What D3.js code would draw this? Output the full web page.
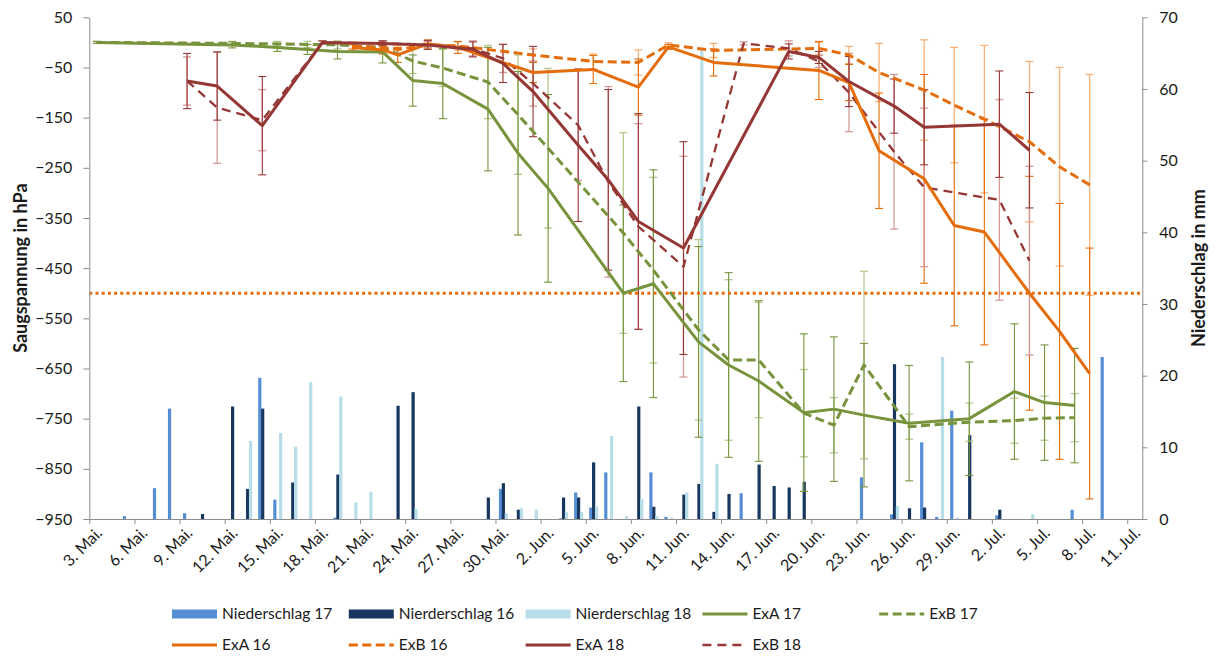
<!DOCTYPE html>
<html><head><meta charset="utf-8">
<script src="https://cdn.jsdelivr.net/npm/d3@7"></script>
<style>
body{margin:0;background:#fff}
text{font-family:Lato,"Open Sans",sans-serif;fill:#1a1a1a}
</style></head>
<body><svg id="c" width="1215" height="657"></svg>
<script>
// ---------- DATA ----------
const leftTicks = [50,-50,-150,-250,-350,-450,-550,-650,-750,-850,-950];
const rightTicks = [0,10,20,30,40,50,60,70];
const monthNames = {4:"Mai.",5:"Jun.",6:"Jul."};
const threshold = -500;

// precipitation bars (mm), dates as MM-DD
const n17Dates = ["05-05","05-07","05-08","05-09","05-14","05-15","05-19","05-30","06-03","06-04","06-05","06-06","06-09","06-10","06-15","06-23","06-25","06-27","06-28","06-29","07-02","07-07","07-09"];
const n17Values = [0.4,4.3,15.4,0.8,19.7,2.7,0.2,4.2,0.1,3.7,1.6,6.5,6.5,0.3,3.6,5.8,0.65,10.7,0.3,15.1,0.5,1.3,22.6];
const n16Dates = ["05-10","05-12","05-13","05-14","05-16","05-19","05-23","05-24","05-29","05-30","05-31","06-03","06-04","06-05","06-08","06-09","06-11","06-12","06-13","06-14","06-16","06-17","06-18","06-19","06-25","06-26","06-27","06-30","07-02"];
const n16Values = [0.7,15.7,4.2,15.4,5.1,6.2,15.8,17.7,3.0,5.0,1.3,3.0,3.0,7.9,15.7,1.7,3.4,4.9,1.0,3.5,7.6,4.6,4.4,5.2,21.6,1.5,1.6,11.7,1.3];
const n18Dates = ["05-13","05-15","05-16","05-17","05-19","05-20","05-21","05-24","05-30","05-31","06-01","06-03","06-04","06-05","06-06","06-07","06-08","06-09","06-10","06-11","06-12","06-13","06-25","06-28","06-29","07-04"];
const n18Values = [10.9,12.0,10.1,19.1,17.1,2.3,3.8,1.4,0.8,1.5,1.3,1.0,1.0,1.7,11.6,0.4,2.8,0.4,0.2,3.7,65.4,7.7,1.8,22.6,0.2,0.65];

// suction (hPa)
const g17Dates = ["05-03","05-12","05-15","05-17","05-19","05-22","05-24","05-26","05-29","05-31","06-02","06-07","06-09","06-12","06-14","06-16","06-19","06-21","06-23","06-26","06-30","07-03","07-05","07-07"];
const exA17 = [0,-5,-10,-14,-18,-19,-76,-82,-133,-221,-291,-500,-481,-597,-643,-675,-738,-731,-743,-759,-750,-696,-718,-724];
const exA17Err = [2,6,8,10,15,22,51,70,123,163,187,176,227,190,184,160,157,144,143,115,113,135,115,114];
const exB17 = [0,-2,-3,-4,-5,-10,-37,-51,-79,-144,-211,-380,-454,-573,-633,-633,-739,-763,-643,-766,-757,-754,-749,-748];
const exB17Err = [2,4,5,6,8,12,25,37,73,119,159,200,185,180,160,115,87,55,187,25,38,45,44,48];

const o16Dates = ["05-20","05-22","05-23","05-25","05-27","06-01","06-05","06-08","06-10","06-13","06-20","06-22","06-24","06-27","06-29","07-01","07-04","07-06","07-08"];
const exA16 = [-10,-15,-25,-3,-10,-60,-54,-89,-9,-40,-56,-80,-216,-272,-365,-378,-500,-576,-660];
const exA16Err = [5,8,15,8,12,20,28,56,5,27,58,36,115,208,200,225,233,255,250];
const exB16 = [-8,-10,-14,-5,-7,-25,-38,-40,-5,-16,-12,-25,-60,-95,-125,-153,-198,-248,-284];
const exB16Err = [4,6,8,6,8,12,15,25,4,14,12,17,58,100,115,147,160,198,220];

const r18ADates = ["05-09","05-11","05-14","05-18","05-22","05-25","05-28","05-30","06-01","06-04","06-06","06-08","06-11","06-18","06-20","06-22","06-25","06-27","07-02","07-04"];
const exA18 = [-77,-87,-166,0,-2,-5,-14,-42,-98,-205,-274,-357,-410,-18,-30,-78,-127,-169,-163,-215];
const exA18Err = [55,68,98,3,5,9,15,38,90,152,180,215,212,15,12,50,54,75,106,115];
const r18BDates = ["05-09","05-11","05-14","05-18","05-22","05-25","05-28","05-30","06-01","06-04","06-06","06-08","06-11","06-15","06-18","06-20","06-22","06-25","06-27","07-02","07-04"];
const exB18 = [-77,-130,-155,0,-2,-4,-12,-32,-82,-165,-278,-367,-447,-2,-12,-38,-100,-218,-289,-314,-435];
const exB18Err = [48,111,61,3,4,6,15,28,45,110,190,205,220,3,15,12,78,154,158,200,188];

// ---------- SETUP ----------
const svg = d3.select('#c');
const X0=89.3, X1=1142.3, Y0=519, Y1=17.3;
const parse = s => { const [m,d]=s.split('-').map(Number); return new Date(Date.UTC(2017,m-1,d)); };
const start = parse("05-03"), end = parse("07-12");
const x = d3.scaleUtc().domain([start,end]).range([X0,X1]);
const yL = d3.scaleLinear().domain([-950,50]).range([Y0,Y1]);
const yR = d3.scaleLinear().domain([0,70]).range([Y0,Y1]);
const mid = s => x(d3.utcHour.offset(parse(s),12));
const slot = x(d3.utcDay.offset(start,1)) - x(start);

const C = {n17:"#558ED5", n16:"#17375E", n18:"#B7DEE8", g:"#77933C", gL:"#B5C98E", o:"#E46C0A", oL:"#F7B27A", r:"#953735", rL:"#D49A98"};
const AX = "#8c8c8c";

// ---------- BARS ----------
const barW = 3.2, step = 2.9;
[[n17Dates,n17Values,C.n17,-1],[n16Dates,n16Values,C.n16,0],[n18Dates,n18Values,C.n18,1]].forEach(([ds,vs,col,k])=>{
  svg.append('g').selectAll('rect').data(ds.map((d,i)=>({d,v:vs[i]}))).join('rect')
    .attr('x',p=>mid(p.d)+0.4+k*step-barW/2).attr('width',barW)
    .attr('y',p=>yR(p.v)).attr('height',p=>Y0-yR(p.v)).attr('fill',col);
});

// ---------- ERROR BARS ----------
function errBars(ds,vs,es,col,w){
  const g = svg.append('g').attr('stroke',col).attr('stroke-width',w).attr('fill','none');
  const data = ds.map((d,i)=>({d,v:vs[i],e:es[i]}));
  g.selectAll('line.v').data(data).join('line').attr('class','v')
    .attr('x1',p=>mid(p.d)).attr('x2',p=>mid(p.d)).attr('y1',p=>yL(p.v+p.e)).attr('y2',p=>yL(p.v-p.e));
  ['t','b'].forEach(s=>{
    g.selectAll('line.'+s).data(data).join('line').attr('class',s)
      .attr('x1',p=>mid(p.d)-4).attr('x2',p=>mid(p.d)+4)
      .attr('y1',p=>yL(s==='t'?p.v+p.e:p.v-p.e)).attr('y2',p=>yL(s==='t'?p.v+p.e:p.v-p.e));
  });
}
errBars(g17Dates,exB17,exB17Err,C.gL,1.3);
errBars(g17Dates,exA17,exA17Err,C.g,1.1);
errBars(o16Dates,exB16,exB16Err,C.oL,1.3);
errBars(o16Dates,exA16,exA16Err,C.o,1.1);
errBars(r18BDates,exB18,exB18Err,C.rL,1.3);
errBars(r18ADates,exA18,exA18Err,C.r,1.1);

// ---------- THRESHOLD ----------
svg.append('line').attr('x1',X0).attr('x2',X1).attr('y1',yL(threshold)).attr('y2',yL(threshold))
  .attr('stroke',C.o).attr('stroke-width',3).attr('stroke-dasharray','3,3.2');

// ---------- LINES ----------
function drawLine(ds,vs,col,w,dash){
  const line = d3.line().x(p=>mid(p.d)).y(p=>yL(p.v));
  svg.append('path').datum(ds.map((d,i)=>({d,v:vs[i]}))).attr('d',line)
    .attr('fill','none').attr('stroke',col).attr('stroke-width',w)
    .attr('stroke-linejoin','round').attr('stroke-dasharray',dash||null);
}
drawLine(g17Dates,exB17,C.g,3,'9,4.5');
drawLine(o16Dates,exB16,C.o,3,'9,4.5');
drawLine(r18BDates,exB18,C.r,2.3,'9,6');
drawLine(g17Dates,exA17,C.g,3);
drawLine(o16Dates,exA16,C.o,3);
drawLine(r18ADates,exA18,C.r,3);

// ---------- AXES ----------
function styleAxis(g){
  g.selectAll('path,line').attr('stroke',AX);
  g.selectAll('text').style('font-size','16px').attr('fill','#1a1a1a');
}
svg.append('g').attr('transform',`translate(${X0},0)`)
  .call(d3.axisLeft(yL).tickValues(leftTicks).tickSize(6).tickSizeOuter(0).tickPadding(11)).call(styleAxis);
svg.append('g').attr('transform',`translate(${X1},0)`)
  .call(d3.axisRight(yR).tickValues(rightTicks).tickSize(5).tickSizeOuter(0).tickPadding(12)).call(styleAxis);
const xTicks = d3.range(0,70,3).map(k=>d3.utcDay.offset(start,k));
const xAxis = svg.append('g').attr('transform',`translate(0,${Y0})`)
  .call(d3.axisBottom(x).tickValues(xTicks).tickSize(5).tickSizeOuter(0)
    .tickFormat(d=>`${d.getUTCDate()}. ${monthNames[d.getUTCMonth()]}`)).call(styleAxis);
xAxis.selectAll('text').attr('text-anchor','end').attr('y',0).attr('dy','0.35em')
  .attr('transform',`translate(${slot/2+2},11) rotate(-45)`);

// axis titles
svg.append('text').attr('transform',`translate(21,${(Y0+Y1)/2}) rotate(-90)`).attr('text-anchor','middle')
  .attr('dy','0.35em').style('font-size','18px').style('font-weight','bold').text('Saugspannung in hPa');
svg.append('text').attr('transform',`translate(1199,${(Y0+Y1)/2}) rotate(-90)`).attr('text-anchor','middle')
  .attr('dy','0.35em').style('font-size','18px').style('font-weight','bold').text('Niederschlag in mm');

// ---------- LEGEND ----------
const legendItems = [
  {name:"Niederschlag 17",type:"bar",col:C.n17},
  {name:"Nierderschlag 16",type:"bar",col:C.n16},
  {name:"Nierderschlag 18",type:"bar",col:C.n18},
  {name:"ExA 17",type:"line",col:C.g},
  {name:"ExB 17",type:"dash",col:C.g},
  {name:"ExA 16",type:"line",col:C.o},
  {name:"ExB 16",type:"dash",col:C.o},
  {name:"ExA 18",type:"line",col:C.r},
  {name:"ExB 18",type:"thin",col:C.r}
];
const lg = svg.append('g');
legendItems.forEach((it,i)=>{
  const row = i<5?0:1, col = i<5?i:i-5;
  const lx = 172 + col*176.8, ly = row===0?614:645;
  if(it.type==='bar'){
    lg.append('rect').attr('x',lx).attr('y',ly-4.5).attr('width',45).attr('height',9).attr('fill',it.col);
  } else {
    lg.append('line').attr('x1',lx).attr('x2',lx+45).attr('y1',ly).attr('y2',ly).attr('stroke',it.col)
      .attr('stroke-width',it.type==='thin'?2.3:3)
      .attr('stroke-dasharray',it.type==='dash'?'9,4.5':it.type==='thin'?'9,6':null);
  }
  lg.append('text').attr('x',lx+50).attr('y',ly).attr('dy','0.35em').style('font-size','15.5px').text(it.name);
});
</script></body></html>
